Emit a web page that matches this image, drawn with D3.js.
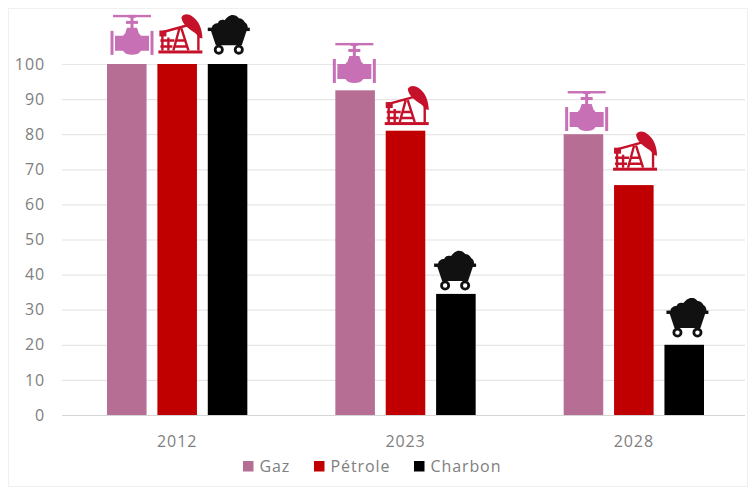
<!DOCTYPE html>
<html lang="fr">
<head>
<meta charset="utf-8">
<script src="https://cdn.jsdelivr.net/npm/d3@7"></script>
<style>
  html, body { margin: 0; padding: 0; background: #fff; }
  svg { display: block; }
  text { font-family: "Open Sans", sans-serif; fill: #808080; letter-spacing: 0.9px; }
</style>
</head>
<body>
<div id="chart"></div>
<script>
const years = ["2012", "2023", "2028"];
const fuels = ["Gaz", "Pétrole", "Charbon"];
const gaz = [100, 92.5, 80];
const petrole = [100, 81, 65.5];
const charbon = [100, 34.5, 20];
// Level, in index points, on which each pictogram sits
const gazIconFloor = [102.6, 94.6, 80.9];
const petroleIconFloor = [103, 82.6, 69.6];
const charbonIconFloor = [102.8, 35.6, 22.2];
const yTicks = d3.range(0, 101, 10);
const fuelColors = ["#b76e95", "#c00000", "#000000"];
const iconColors = ["#c770b5", "#c5122a", "#111111"];

const width = 756, height = 495;
const svg = d3.select("#chart").append("svg").attr("width", width).attr("height", height);

svg.append("rect").attr("x", 8.5).attr("y", 8.5).attr("width", 739).attr("height", 478)
  .attr("fill", "#fff").attr("stroke", "#f0f0f0");

const y = d3.scaleLinear().domain([0, 100]).range([415, 64]);
const x0 = d3.scaleBand().domain(years).range([63, 748]);
const x1 = d3.scaleBand().domain(fuels)
  .range([44, x0.bandwidth() - 44])
  .paddingInner(0.215);

// Gridlines and value labels
const yAxis = d3.axisLeft(y).tickValues(yTicks).tickSize(0).tickPadding(0);
const yG = svg.append("g").attr("transform", "translate(45,0)").call(yAxis);
yG.select(".domain").remove();
yG.selectAll("text").style("font-size", "16px").attr("x", 0);
svg.append("g").selectAll("line").data(yTicks).join("line")
  .attr("x1", 62).attr("x2", 745)
  .attr("y1", d => y(d) + 0.5).attr("y2", d => y(d) + 0.5)
  .attr("stroke", d => d === 0 ? "#d4d4d4" : "#e6e6e6").attr("stroke-width", 1.2);

// Category labels
const xAxis = d3.axisBottom(x0).tickSize(0).tickPadding(0);
const xG = svg.append("g").attr("transform", "translate(0,436)").call(xAxis);
xG.select(".domain").remove();
xG.selectAll("text").style("font-size", "16px").attr("y", 0).attr("dy", "0.71em");

// Pictograms, each drawn in a 44 x 40 box whose bottom edge is the floor level
function drawValve(g, c) {
  g.append("rect").attr("x", 3).attr("y", 0).attr("width", 38).attr("height", 2.4).attr("fill", c);
  g.append("rect").attr("x", 18.5).attr("y", 0).attr("width", 7).attr("height", 3).attr("fill", c);
  g.append("rect").attr("x", 20.5).attr("y", 2).attr("width", 3).attr("height", 12).attr("fill", c);
  g.append("rect").attr("x", 16).attr("y", 6).attr("width", 12).attr("height", 3).attr("fill", c);
  g.append("path").attr("fill", c)
    .attr("d", "M17 13h10l2 6h-14zM5 21h8c2-3 5-4 9-4s7 1 9 4h8v15h-8c-2 3-5 4-9 4s-7-1-9-4h-8z");
  g.append("rect").attr("x", 0.5).attr("y", 16).attr("width", 3).attr("height", 24).attr("fill", c);
  g.append("rect").attr("x", 40.5).attr("y", 16).attr("width", 3).attr("height", 24).attr("fill", c);
}

function drawPump(g, c) {
  g.append("rect").attr("x", 0).attr("y", 37).attr("width", 44).attr("height", 3).attr("fill", c);
  g.append("path").attr("fill", c)
    .attr("d", "M23 4c2-4 7-4 11-1 6 4 10 12 10 22l-4-1c-1-2-2-4-4-5-6-4-12-8-13-15z");
  g.append("path").attr("fill", "none").attr("stroke", c).attr("stroke-width", 2.4)
    .attr("d", "M3 19L32 11M40 22V37M4 19V37M2 27H16M2 33H14M10 24V37M21 15L15 37M23 15L30 37M18 27H27M16 33H29");
  g.append("rect").attr("x", 1).attr("y", 17).attr("width", 7).attr("height", 6).attr("fill", c);
}

function drawCart(g, c) {
  g.append("path").attr("fill", c)
    .attr("d", "M4 14c0-3 3-5 6-5 1-3 4-4 7-3 2-3 6-6 9-5 3 0 4 2 5 3 3 0 5 2 6 4 2 1 3 3 3 6z");
  g.append("rect").attr("x", 0).attr("y", 13.5).attr("width", 42).attr("height", 3.4).attr("fill", c);
  g.append("path").attr("fill", c).attr("d", "M3 16H39L34 31H8z");
  [11, 31].forEach(cx => {
    g.append("circle").attr("cx", cx).attr("cy", 35.5).attr("r", 3.6)
      .attr("fill", "#fff").attr("stroke", c).attr("stroke-width", 2.8);
  });
}

const drawIcons = [drawValve, drawPump, drawCart];
const iconFloors = [gazIconFloor, petroleIconFloor, charbonIconFloor];
// Sideways shift of each pictogram from its bar's left edge, by fuel then year
const iconShift = [[3, -3, 1], [1, -1, -1], [0, -2, 2]];

// Bars and the pictogram above each one
[gaz, petrole, charbon].forEach((series, i) => {
  const barX = j => x0(years[j]) + x1(fuels[i]);
  svg.append("g").selectAll("rect").data(series).join("rect")
    .attr("x", (d, j) => barX(j))
    .attr("y", d => y(d))
    .attr("width", x1.bandwidth())
    .attr("height", d => y(0) - y(d))
    .attr("fill", fuelColors[i]);
  iconFloors[i].forEach((floor, j) => {
    const g = svg.append("g")
      .attr("transform", `translate(${barX(j) + iconShift[i][j]},${y(floor) - 40})`);
    drawIcons[i](g, iconColors[i]);
  });
});

// Legend
const legendSpots = [243, 314, 414];
const legend = svg.append("g").selectAll("g").data(fuels).join("g")
  .attr("transform", (d, i) => `translate(${legendSpots[i]},461)`);
legend.append("rect").attr("width", 10.5).attr("height", 10.5).attr("fill", (d, i) => fuelColors[i]);
legend.append("text").attr("x", 16.5).attr("y", 5.5).attr("dy", "0.36em")
  .style("font-size", "16px").text(d => d);
</script>
</body>
</html>
